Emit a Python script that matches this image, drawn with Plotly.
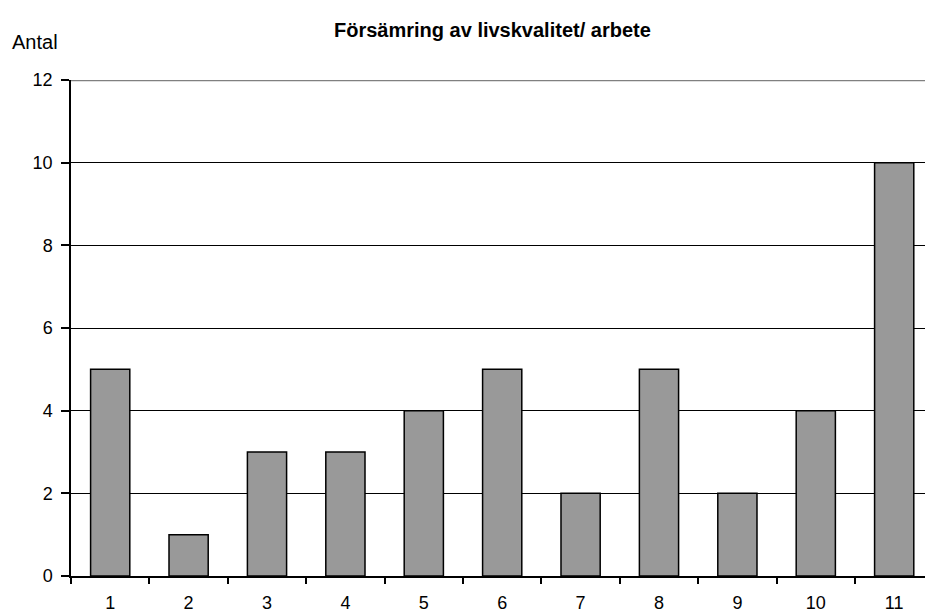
import plotly.graph_objects as go

categories = ["1", "2", "3", "4", "5", "6", "7", "8", "9", "10", "11"]
antal = [5, 1, 3, 3, 4, 5, 2, 5, 2, 4, 10]
y_ticks = [0, 2, 4, 6, 8, 10, 12]

W, H = 925, 613
ml, mr, mt, mb = 71, 0, 80, 37

fig = go.Figure(
    go.Bar(
        x=categories,
        y=antal,
        width=0.5,
        marker=dict(color="#999999", line=dict(color="#000000", width=1.5)),
    )
)

font = "Liberation Sans, Arial, sans-serif"

fig.update_layout(
    width=W,
    height=H,
    margin=dict(l=ml, r=mr, t=mt, b=mb, pad=0),
    paper_bgcolor="white",
    plot_bgcolor="white",
    showlegend=False,
    font=dict(family=font, size=18, color="black"),
    xaxis=dict(
        type="category",
        range=[-0.5, 10.393],
        tickson="boundaries",
        ticks="outside",
        ticklen=6,
        tickcolor="black",
        tickwidth=1.5,
        ticklabelstandoff=10,
        showline=True,
        linecolor="black",
        linewidth=1.5,
        showgrid=False,
        tickfont=dict(family=font, size=18),
    ),
    yaxis=dict(
        range=[0, 12],
        tickvals=y_ticks,
        ticks="outside",
        ticklen=8,
        tickcolor="black",
        tickwidth=1.5,
        ticklabelstandoff=5,
        showline=True,
        linecolor="black",
        linewidth=1.5,
        showgrid=True,
        gridcolor="black",
        gridwidth=1,
        zeroline=False,
        tickfont=dict(family=font, size=18),
    ),
    shapes=[
        dict(
            type="line", xref="paper", yref="y",
            x0=0, x1=1, y0=12, y1=12,
            line=dict(color="#808080", width=2.5),
        )
    ],
    annotations=[
        dict(
            text="<b>Försämring av livskvalitet/ arbete</b>",
            xref="paper", yref="paper",
            x=(492 - ml) / (W - ml - mr), y=1 + (80 - 30) / (H - mt - mb),
            xanchor="center", yanchor="middle",
            showarrow=False, font=dict(family=font, size=20),
        ),
        dict(
            text="Antal",
            xref="paper", yref="paper",
            x=(10 - ml) / (W - ml - mr), y=1 + (80 - 42) / (H - mt - mb),
            xanchor="left", yanchor="middle",
            showarrow=False, font=dict(family=font, size=20),
        ),
    ],
)

fig.write_html("out.html")
